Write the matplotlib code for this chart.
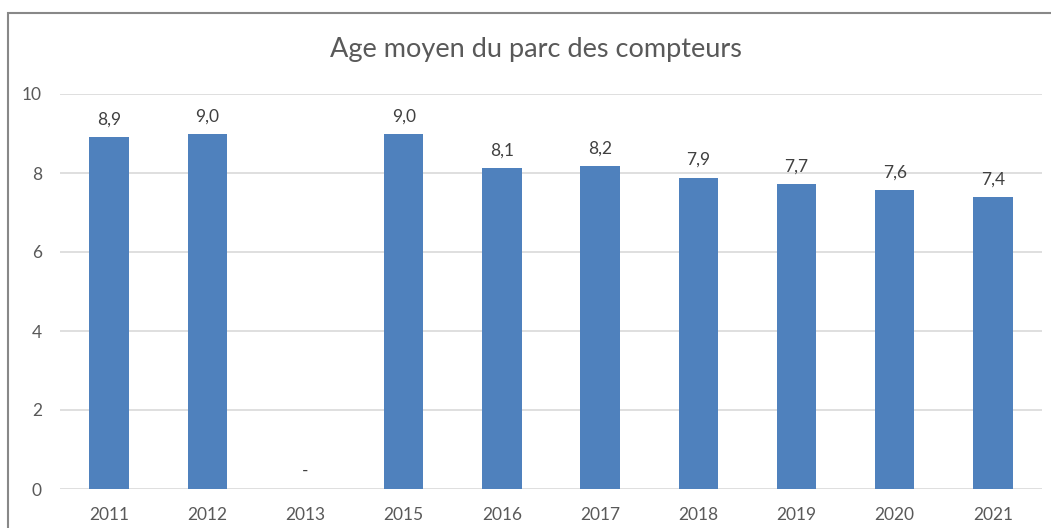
import matplotlib.pyplot as plt
from matplotlib.patches import Rectangle

years = ["2011", "2012", "2013", "2015", "2016", "2017", "2018", "2019", "2020", "2021"]
ages = [8.91, 8.98, 0.0, 8.99, 8.13, 8.18, 7.88, 7.72, 7.57, 7.38]
labels = ["8,9", "9,0", "-", "9,0", "8,1", "8,2", "7,9", "7,7", "7,6", "7,4"]

plt.rcParams['font.family'] = ['Lato', 'DejaVu Sans']
txt = '#595959'

fig = plt.figure(figsize=[10.51, 5.28], dpi=100)
ax = fig.add_axes([60 / 1051, 39 / 528, 982 / 1051, 395 / 528])

x = range(len(years))
ax.bar(x, ages, width=0.4, color='#4f81bd', zorder=3)
for i, (v, lab) in enumerate(zip(ages, labels)):
    ax.annotate(lab, (i, v), xytext=(0, 7), textcoords='offset points',
                ha='center', va='bottom', fontsize=12.5, color='#404040')

ax.set_xlim(-0.5, len(years) - 0.5)
ax.set_ylim(0, 10)
ax.set_yticks([0, 2, 4, 6, 8, 10])
ax.set_xticks(list(x))
ax.set_xticklabels(years)
ax.tick_params(length=0, labelsize=12.5, labelcolor=txt, pad=13)
ax.tick_params(axis='y', pad=13)
ax.grid(axis='y', color='#d9d9d9', linewidth=1.2, zorder=0)
for s in ax.spines.values():
    s.set_visible(False)

fig.text(536 / 1051, 1 - 50 / 528, "Age moyen du parc des compteurs", ha='center', va='center',
         fontsize=19.5, color=txt)

# chart frame
fig.patches.append(Rectangle((8 / 1051, -0.05), 1.1, 1 - 13 / 528 + 0.05, transform=fig.transFigure,
                             fill=False, edgecolor='#888888', linewidth=1.5))

fig.savefig('out.png', dpi=100)
